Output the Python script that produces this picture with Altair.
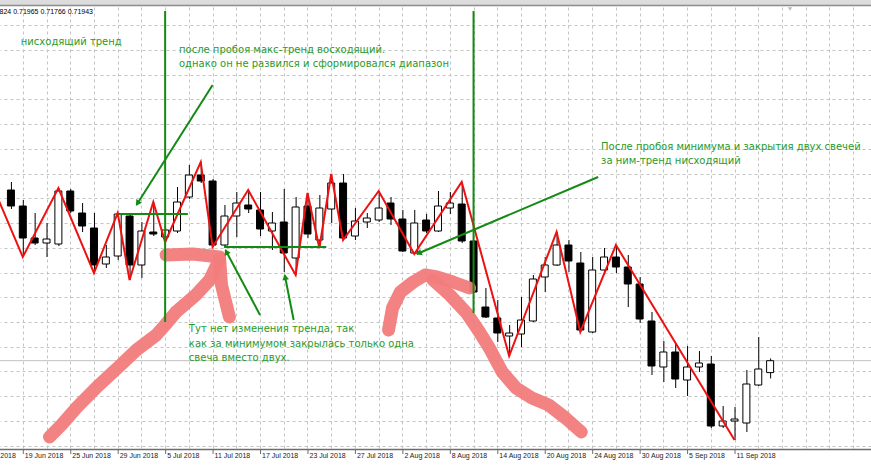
import altair as alt
import pandas as pd
import numpy as np

# ---------------- data (daily candles, first bar = 18 Jun 2018) ----------------
FIRST_DAY = "2018-06-18"
OPEN = [0.7365, 0.7349, 0.7317, 0.7312, 0.7311, 0.7364, 0.7342, 0.7327, 0.7291, 0.7299,
        0.7339, 0.7290, 0.7323, 0.7318, 0.7324, 0.7358, 0.7380, 0.7374, 0.7310, 0.7339,
        0.7350, 0.7345, 0.7324, 0.7333, 0.7297, 0.7349, 0.7315, 0.7346, 0.7372, 0.7319,
        0.7333, 0.7335, 0.7352, 0.7336, 0.7302, 0.7335, 0.7324, 0.7347, 0.7351, 0.7314,
        0.7248, 0.7237, 0.7219, 0.7221, 0.7234, 0.7278, 0.7290, 0.7310, 0.7292, 0.7223,
        0.7285, 0.7298, 0.7288, 0.7271, 0.7234, 0.7188, 0.7203, 0.7175, 0.7188, 0.7191,
        0.7129, 0.7134, 0.7132, 0.7170, 0.71824]
HIGH = [0.7373, 0.7355, 0.7342, 0.7332, 0.7367, 0.7366, 0.7352, 0.7342, 0.7310, 0.7342,
        0.7342, 0.7333, 0.7353, 0.7327, 0.7368, 0.7390, 0.7393, 0.7376, 0.7350, 0.7363,
        0.7365, 0.7363, 0.7343, 0.7366, 0.7358, 0.7362, 0.7360, 0.7381, 0.7381, 0.7347,
        0.7342, 0.7364, 0.7358, 0.7345, 0.7345, 0.7341, 0.7364, 0.7363, 0.7373, 0.7315,
        0.7267, 0.7255, 0.7230, 0.7258, 0.7280, 0.7298, 0.7323, 0.7315, 0.7303, 0.7298,
        0.7307, 0.7310, 0.7300, 0.7278, 0.7243, 0.7214, 0.7212, 0.7209, 0.7204, 0.7199,
        0.7149, 0.7148, 0.7185, 0.7218, 0.71965]
LOW = [0.7346, 0.7298, 0.7310, 0.7298, 0.7309, 0.7342, 0.7323, 0.7282, 0.7287, 0.7295,
       0.7275, 0.7277, 0.7319, 0.7313, 0.7322, 0.7356, 0.7372, 0.7308, 0.7308, 0.7318,
       0.7342, 0.7319, 0.7305, 0.7283, 0.7280, 0.7317, 0.7307, 0.7332, 0.7315, 0.7315,
       0.7327, 0.7333, 0.7330, 0.7303, 0.7301, 0.7322, 0.7323, 0.7341, 0.7312, 0.7262,
       0.7237, 0.7213, 0.7199, 0.7208, 0.7233, 0.7263, 0.7289, 0.7283, 0.7223, 0.7222,
       0.7280, 0.7282, 0.7248, 0.7232, 0.7180, 0.7173, 0.7167, 0.7159, 0.7183, 0.7127,
       0.7127, 0.7115, 0.7123, 0.7169, 0.71766]
CLOSE = [0.7349, 0.7317, 0.7312, 0.7316, 0.7364, 0.7344, 0.7329, 0.7290, 0.7298, 0.7341,
         0.7290, 0.7324, 0.7321, 0.7325, 0.7353, 0.7380, 0.7374, 0.7310, 0.7339, 0.7352,
         0.7346, 0.7326, 0.7332, 0.7302, 0.7348, 0.7321, 0.7347, 0.7372, 0.7317, 0.7334,
         0.7337, 0.7347, 0.7336, 0.7304, 0.7332, 0.7324, 0.7349, 0.7352, 0.7314, 0.7263,
         0.7238, 0.7222, 0.7222, 0.7235, 0.7276, 0.7290, 0.7310, 0.7294, 0.7225, 0.7285,
         0.7298, 0.7288, 0.7271, 0.7236, 0.7189, 0.7203, 0.7176, 0.7188, 0.7192, 0.7129,
         0.7134, 0.7136, 0.7171, 0.7186, 0.71943]

# ZigZag indicator vertices (bar index, price)
ZZ_BAR = [-2, 1, 4, 7, 9, 10, 12, 13, 16, 17, 20, 24, 25, 26, 27, 28, 31, 34, 38, 42, 46, 48, 51, 61]
ZZ_PRICE = [0.7382, 0.7298, 0.7367, 0.7282, 0.7342, 0.7275, 0.7353, 0.7313, 0.7393, 0.7308,
            0.7365, 0.7280, 0.7362, 0.7307, 0.7381, 0.7315, 0.7364, 0.7301, 0.7373, 0.7199,
            0.7323, 0.7223, 0.7310, 0.7115]

# time-scale labels
DATE_LABELS = ["13 Jun 2018", "19 Jun 2018", "25 Jun 2018", "29 Jun 2018", "5 Jul 2018",
               "11 Jul 2018", "17 Jul 2018", "23 Jul 2018", "27 Jul 2018", "2 Aug 2018",
               "8 Aug 2018", "14 Aug 2018", "20 Aug 2018", "24 Aug 2018", "30 Aug 2018",
               "5 Sep 2018", "11 Sep 2018"]
HEADER = "0.71824 0.71965 0.71766 0.71943"

# hand-drawn green lines (bar index / price of both ends, arrow at the end?)
SEG_X1 = [13, 39, 17.0, 9.083, 17.97, 21.0, 23.833, 49.5]
SEG_Y1 = [0.7544, 0.7544, 0.7470, 0.7341, 0.7308, 0.7240, 0.7235, 0.7378]
SEG_X2 = [13, 39, 10.583, 14.917, 26.583, 18.083, 23.083, 34.22]
SEG_Y2 = [0.7233, 0.7242, 0.7350, 0.7341, 0.7308, 0.7305, 0.7280, 0.7301]
SEG_ARROW = [False, False, True, False, False, True, True, True]

# green notes: anchor bar index, price, text
NOTE_X = [0.833, 14.167, 14.167, 49.75, 49.75, 15.0, 15.0, 15.0]
NOTE_Y = [0.7513, 0.7505, 0.7491, 0.7408, 0.7394, 0.7226, 0.7211, 0.7197]
NOTE_TEXT = ["нисходящий тренд",
             "после пробоя макс-тренд восходящий.",
             "однако он не развился и сформировался диапазон",
             "После пробоя минимума и закрытия двух свечей",
             "за ним-тренд нисходящий",
             "Тут нет изменения тренда, так",
             "как за минимумом закрылась только одна",
             "свеча вместо двух."]

# freehand pink strokes (bar index, price)
PINK_1_X = [3.25, 4.25, 5.583, 7.25, 9.25, 10.583, 12.25, 13.0, 13.917, 15.583, 16.75, 17.583]
PINK_1_Y = [0.7118, 0.7130, 0.7148, 0.7168, 0.7190, 0.7205, 0.7220, 0.7230, 0.7243, 0.7260, 0.7275, 0.7296]
PINK_2_X = [13.083, 15.333, 17.583, 17.75, 18.417]
PINK_2_Y = [0.7300, 0.7301, 0.7298, 0.7270, 0.7238]
PINK_3_X = [31.833, 32.167, 32.833, 33.917, 34.917, 35.917, 37.25, 38.667]
PINK_3_Y = [0.7225, 0.7247, 0.7263, 0.7273, 0.7280, 0.7278, 0.7273, 0.7267]
PINK_4_X = [35.583, 37.0, 38.417, 39.5, 40.333, 41.417, 42.583, 43.917, 45.333, 46.75, 48.083]
PINK_4_Y = [0.7275, 0.7260, 0.7242, 0.7223, 0.7207, 0.7183, 0.7167, 0.7157, 0.7150, 0.7137, 0.7123]

# ---------------- tables ----------------
nbar = len(OPEN)
candles = pd.DataFrame({"n": np.arange(nbar), "open": OPEN, "high": HIGH, "low": LOW, "close": CLOSE})
zz = pd.DataFrame({"n": ZZ_BAR, "price": ZZ_PRICE})
bid = pd.DataFrame({"price": [CLOSE[-1]]})

lab_n = [int(np.busday_count(FIRST_DAY, pd.to_datetime(s, format="%d %b %Y").strftime("%Y-%m-%d")))
         for s in DATE_LABELS]
labels = pd.DataFrame({"n": lab_n, "t": DATE_LABELS})

segs = pd.DataFrame({"x1": SEG_X1, "y1": SEG_Y1, "x2": SEG_X2, "y2": SEG_Y2, "arrow": SEG_ARROW})

# arrow heads: direction in screen space (12 px per bar, 1 px per 0.0001)
PX_BAR, PX_PRICE = 12.0, 10000.0
heads = []
for r in segs[segs.arrow].itertuples():
    dx = (r.x2 - r.x1) * PX_BAR
    dy = -(r.y2 - r.y1) * PX_PRICE
    L = np.hypot(dx, dy)
    ux, uy = dx / L, dy / L
    ang = np.degrees(np.arctan2(dx, -dy)) % 360
    heads.append({"x": r.x2 - ux * 3 / PX_BAR, "y": r.y2 + uy * 3 / PX_PRICE, "ang": ang})
heads = pd.DataFrame(heads)

notes = pd.DataFrame({"x": NOTE_X, "y": NOTE_Y, "t": NOTE_TEXT})

pink_rows = []
for sid, (xs, ys) in enumerate([(PINK_1_X, PINK_1_Y), (PINK_2_X, PINK_2_Y),
                                (PINK_3_X, PINK_3_Y), (PINK_4_X, PINK_4_Y)]):
    for k, (a, b) in enumerate(zip(xs, ys)):
        pink_rows.append({"sid": sid, "k": k, "x": a, "y": b})
pink = pd.DataFrame(pink_rows)

one = pd.DataFrame({"a": [0]})
head_txt = pd.DataFrame({"t": [HEADER]})

# ---------------- scales / axes ----------------
W, H = 871, 443
XS = alt.Scale(domain=[-0.5, -0.5 + W / 12.0], nice=False, zero=False)
YS = alt.Scale(domain=[0.7548 - H / 10000.0, 0.7548], nice=False, zero=False)
GRID_X = list(range(1, 73, 2))
GRID_Y = [round(0.7530 - 0.002475 * k, 6) for k in range(18)]
XAX = alt.Axis(values=GRID_X, grid=True, gridColor="#c4c4c4", gridDash=[3, 3], gridWidth=1,
               labels=False, ticks=False, domain=False, title=None)
YAX = alt.Axis(values=GRID_Y, grid=True, gridColor="#c4c4c4", gridDash=[3, 3], gridWidth=1,
               labels=False, ticks=False, domain=False, title=None, orient="right")


def X(f):
    return alt.X(f, type="quantitative", scale=XS, axis=XAX)


def Y(f):
    return alt.Y(f, type="quantitative", scale=YS, axis=YAX)


GREEN = "#138a13"
TEXT_GREEN = "#2a9a2a"
PINK = "#f27c7c"

bidline = alt.Chart(bid).mark_rule(color="#c0c0c0", strokeWidth=1).encode(
    x=alt.value(0), x2=alt.value(W), y=Y("price"))

wicks = alt.Chart(candles).mark_rule(color="black", strokeWidth=1, xOffset=0.5).encode(
    x=X("n"), y=Y("low"), y2="high")

bodies = alt.Chart(candles).mark_bar(size=7, stroke="black", strokeWidth=1).encode(
    x=X("n"), y=Y("open"), y2="close",
    fill=alt.condition("datum.close < datum.open", alt.value("black"), alt.value("white")))

zigzag = alt.Chart(zz).mark_line(color="#ee1111", strokeWidth=2, clip=True).encode(
    x=X("n"), y=Y("price"), order="n:Q")

pinks = alt.Chart(pink).mark_line(color=PINK, strokeWidth=13, strokeCap="round",
                                  strokeJoin="round", opacity=0.95).encode(
    x=X("x"), y=Y("y"), detail="sid:N", order="k:Q")

greens = alt.Chart(segs).mark_rule(color=GREEN, strokeWidth=2).encode(
    x=X("x1"), y=Y("y1"), x2="x2", y2="y2")

arrowheads = alt.Chart(heads).mark_point(shape="triangle", filled=True, size=45,
                                         color=GREEN, opacity=1).encode(
    x=X("x"), y=Y("y"), angle=alt.Angle("ang:Q", scale=None))

texts = alt.Chart(notes).mark_text(align="left", baseline="middle", font="DejaVu Sans",
                                   fontSize=10, color=TEXT_GREEN).encode(
    x=X("x"), y=Y("y"), text="t:N")

# bottom time scale
axis_line = alt.Chart(one).mark_rule(color="#6e6e6e", strokeWidth=1.5).encode(
    x=alt.value(0), x2=alt.value(W), y=alt.value(H - 0.5))
axis_ticks = alt.Chart(labels).mark_rule(color="#6e6e6e", strokeWidth=1, xOffset=0.5).encode(
    x=X("n"), y=alt.value(H), y2=alt.value(H + 4))
axis_labels = alt.Chart(labels).mark_text(align="left", baseline="middle", dx=2,
                                          font="Liberation Sans", fontSize=7,
                                          color="#222222").encode(
    x=X("n"), y=alt.value(H + 6), text="t:N")

# window frame on top and header quote
top_band = alt.Chart(one).mark_rect(color="#dcdcdc").encode(
    x=alt.value(0), x2=alt.value(W), y=alt.value(-7), y2=alt.value(-2))
top_edge = alt.Chart(one).mark_rule(color="#8c8c8c", strokeWidth=1.5).encode(
    x=alt.value(0), x2=alt.value(W), y=alt.value(-1.5))
shift_mark = alt.Chart(one).mark_point(shape="triangle-down", filled=True, size=18,
                                       color="#9a9a9a").encode(
    x=alt.value(790), y=alt.value(2))
header = alt.Chart(head_txt).mark_text(align="right", baseline="middle", font="Liberation Sans",
                                       fontSize=7, color="black").encode(
    x=alt.value(93), y=alt.value(5), text="t:N")

chart = alt.layer(
    bidline, wicks, bodies, zigzag, pinks, greens, arrowheads, texts,
    axis_line, axis_ticks, axis_labels, top_band, top_edge, shift_mark, header
).properties(
    width=W, height=H,
    padding={"left": 0, "right": 0, "top": 7, "bottom": 16},
    autosize=alt.AutoSizeParams(type="none"),
    background="white",
).configure_view(stroke=None)

chart.save("out.html", embed_options={"renderer": "svg", "actions": False})
